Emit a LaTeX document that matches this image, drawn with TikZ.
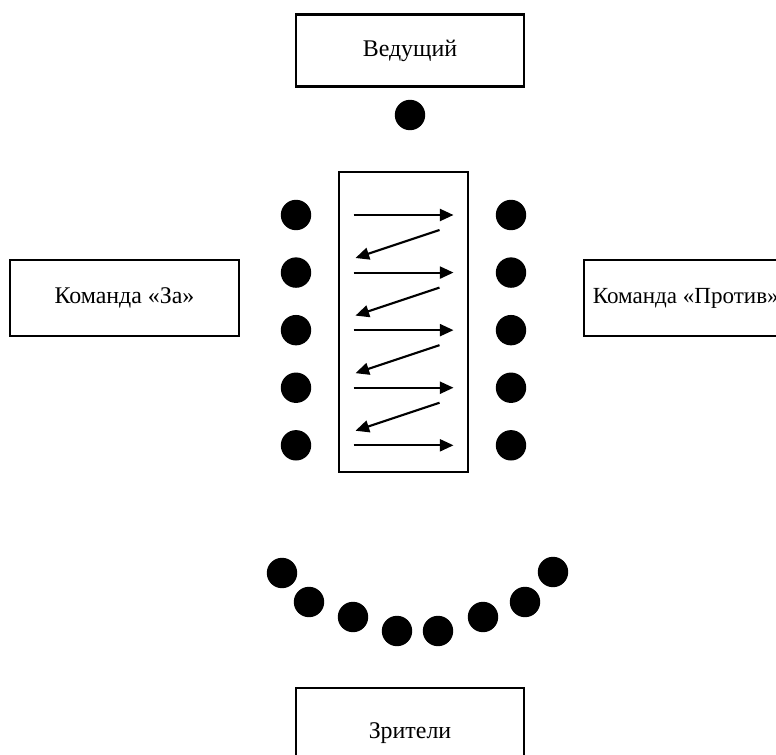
\documentclass[tikz,border=0pt]{standalone}
\usepackage{fontspec}
\setmainfont{Liberation Serif}
\usetikzlibrary{arrows.meta, positioning}

\begin{document}
\begin{tikzpicture}[
    x=0.025cm, y=-0.025cm,
    font=\fontsize{17}{20}\selectfont,
    box/.style={
        rectangle, draw=black, line width=1.5pt, fill=white,
        minimum width=5.7cm, minimum height=1.8cm,
        align=center, inner sep=0.25cm
    },
    desk/.style={
        rectangle, draw=black, line width=1.4pt,
        minimum width=3.225cm, minimum height=7.5cm
    },
    dot/.style={
        circle, fill=black, minimum size=0.76cm, inner sep=0pt
    },
    arrow/.style={
        -{Triangle[length=0.34cm, width=0.3cm]}, line width=1.5pt, draw=black
    },
    pass/.style={
        arrow, shorten <=1.05cm, shorten >=1.05cm
    }
]

    \useasboundingbox (0,0) rectangle (776,755);
    \clip (0,0) rectangle (776,755);

    % =========================================================================
    % HOST (TOP)
    % =========================================================================
    \node [box] (host) at (410, 50.5) {Ведущий};
    \node [dot] (host_dot) at (410, 115) {};

    % =========================================================================
    % DESK AND BOTH TEAMS (MIDDLE)
    % =========================================================================
    \node [desk] (desk) at (403.5, 322) {};

    \node [dot] (for1) at (296, 215) {};
    \node [dot, below=0.665cm of for1] (for2) {};
    \node [dot, below=0.665cm of for2] (for3) {};
    \node [dot, below=0.665cm of for3] (for4) {};
    \node [dot, below=0.665cm of for4] (for5) {};

    \node [dot] (against1) at (511, 215) {};
    \node [dot, below=0.665cm of against1] (against2) {};
    \node [dot, below=0.665cm of against2] (against3) {};
    \node [dot, below=0.665cm of against3] (against4) {};
    \node [dot, below=0.665cm of against4] (against5) {};

    \node [box, minimum width=5.725cm, minimum height=1.9cm] (team_for) at (124.5, 298) {Команда «За»};
    \node [box, anchor=west, minimum width=0cm, minimum height=1.9cm, inner xsep=0.22cm,
           font=\fontsize{16.4}{20}\selectfont] (team_against) at (583, 298) {Команда «Против»};

    % =========================================================================
    % AUDIENCE (BOTTOM)
    % =========================================================================
    \node [dot] (aud1) at (282, 573) {};
    \node [dot] (aud2) at (309, 602) {};
    \node [dot] (aud3) at (353, 617) {};
    \node [dot] (aud4) at (397, 631) {};
    \node [dot] (aud5) at (438, 631) {};
    \node [dot] (aud6) at (483, 617) {};
    \node [dot] (aud7) at (525, 602) {};
    \node [dot] (aud8) at (553, 572) {};

    \node [box, minimum height=2.25cm] (audience) at (410, 733) {Зрители};

    % =========================================================================
    % EXCHANGE BETWEEN THE TEAMS
    % =========================================================================
    % For to Against, row by row
    \draw [pass] (for1) -- (against1);
    \draw [pass] (for2) -- (against2);
    \draw [pass] (for3) -- (against3);
    \draw [pass] (for4) -- (against4);
    \draw [pass] (for5) -- (against5);

    % Against back to For (down to the next row)
    \draw [arrow] ([xshift=-1.4cm, yshift=-0.375cm]against1.west) -- ([xshift=1.1cm, yshift=-1.075cm]for1.east);
    \draw [arrow] ([xshift=-1.4cm, yshift=-0.375cm]against2.west) -- ([xshift=1.1cm, yshift=-1.075cm]for2.east);
    \draw [arrow] ([xshift=-1.4cm, yshift=-0.375cm]against3.west) -- ([xshift=1.1cm, yshift=-1.075cm]for3.east);
    \draw [arrow] ([xshift=-1.4cm, yshift=-0.375cm]against4.west) -- ([xshift=1.1cm, yshift=-1.075cm]for4.east);

\end{tikzpicture}
\end{document}
